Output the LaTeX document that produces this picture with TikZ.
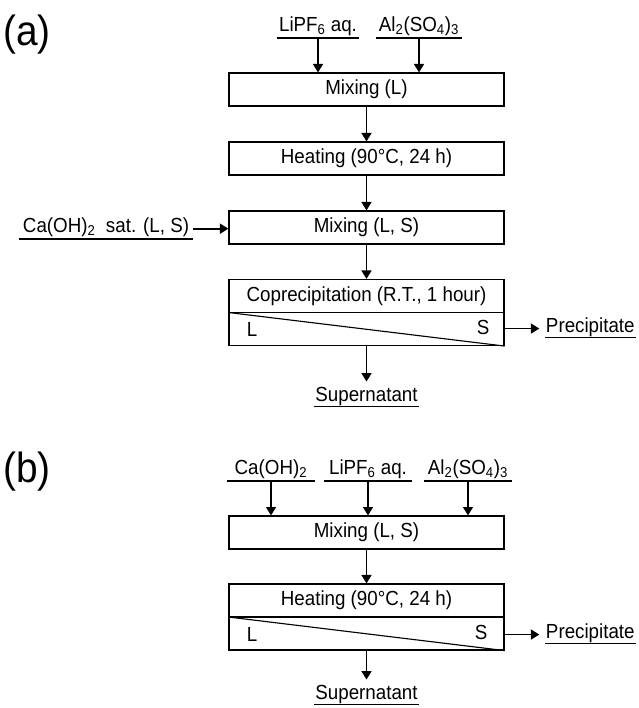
\documentclass[tikz,border=0pt]{standalone}
\usepackage{fontspec}
\setmainfont{Liberation Sans}[FakeStretch=0.92]
\usetikzlibrary{arrows.meta}

\begin{document}
\begin{tikzpicture}[x=0.025cm,y=-0.025cm,>={Triangle[length=6pt,width=7pt]},
    every node/.style={font=\fontsize{14.5}{17}\selectfont},
    proc/.style={draw,line width=0.8pt,minimum width=6.875cm,minimum height=0.825cm,inner sep=0pt},
    sepbox/.style={draw,line width=0.8pt,minimum width=6.875cm,minimum height=1.65cm,inner sep=0pt},
    feed/.style={anchor=south,inner sep=1.5pt},
    prod/.style={inner sep=0.5pt},
    flow/.style={->,line width=1.3pt},
    rule/.style={line width=0.8pt},
    panel/.style={font=\fontsize{30}{34}\selectfont}]
    \useasboundingbox (0,0) rectangle (638,708);
    % (a)
    \node[panel] (la) at (27,35) {(a)};
    \node[feed,minimum width=2.05cm] (liA) at (318,38) {LiPF\textsubscript{6} aq.};
    \node[feed,minimum width=2.15cm] (alA) at (419,38) {Al\textsubscript{2}(SO\textsubscript{4})\textsubscript{3}};
    \node[proc] (mixA) at (366.5,89.5) {Mixing (L)};
    \node[proc] (heatA) at (366.5,158.5) {Heating (90°C, 24 h)};
    \node[proc] (mixLSA) at (366.5,227.5) {Mixing (L, S)};
    \node[feed,minimum width=4.35cm] (caA) at (106,239) {Ca(OH)\textsubscript{2}\ \ sat. (L, S)};
    \node[sepbox] (copA) at (366.5,312.5) {};
    \node (copT) at (366.5,296) {Coprecipitation (R.T., 1 hour)};
    \node (copL) at (252,329) {L};
    \node (copS) at (483,327) {S};
    \node[prod,anchor=west] (preA) at (545,327) {Precipitate};
    \node[prod] (supA) at (366.5,396) {Supernatant};
    \draw[rule] (copA.west) -- (copA.east);
    \draw[rule] (copA.west) -- (copA.south east);
    \draw[flow] (liA.south) -- (liA.south |- mixA.north);
    \draw[flow] (alA.south) -- (alA.south |- mixA.north);
    \draw[flow] (mixA) -- (heatA);
    \draw[flow] (heatA) -- (mixLSA);
    \draw[flow] (caA.mid east) -- (caA.mid east -| mixLSA.west);
    \draw[flow] (mixLSA) -- (copA);
    \draw[flow,shorten >=4pt] (copA.east |- preA.mid west) -- (preA.mid west);
    \draw[flow,shorten >=3pt] (copA.south) -- (supA.north);
    % (b)
    \node[panel] (lb) at (27,472) {(b)};
    \node[feed,minimum width=2.175cm] (caB) at (271,481) {Ca(OH)\textsubscript{2}};
    \node[feed,minimum width=2.175cm] (liB) at (368,481) {LiPF\textsubscript{6} aq.};
    \node[feed,minimum width=2.175cm] (alB) at (468,481) {Al\textsubscript{2}(SO\textsubscript{4})\textsubscript{3}};
    \node[proc] (mixB) at (366.5,532.5) {Mixing (L, S)};
    \node[sepbox] (heatB) at (366.5,617) {};
    \node (heatT) at (366.5,600) {Heating (90°C, 24 h)};
    \node (heatL) at (252,634) {L};
    \node (heatS) at (481,632) {S};
    \node[prod,anchor=west] (preB) at (545,633) {Precipitate};
    \node[prod] (supB) at (366.5,694) {Supernatant};
    \draw[rule] (heatB.west) -- (heatB.east);
    \draw[rule] (heatB.west) -- (heatB.south east);
    \foreach \n in {caB,liB,alB}
        \draw[flow] (\n.south) -- (\n.south |- mixB.north);
    \draw[flow] (mixB) -- (heatB);
    \draw[flow,shorten >=4pt] (heatB.east |- preB.mid west) -- (preB.mid west);
    \draw[flow,shorten >=3pt] (heatB.south) -- (supB.north);
    % underlines
    \foreach \n in {liA,alA,caA,preA,supA,caB,liB,alB,preB,supB}
        \draw[rule] (\n.south west) -- (\n.south east);
\end{tikzpicture}
\end{document}
